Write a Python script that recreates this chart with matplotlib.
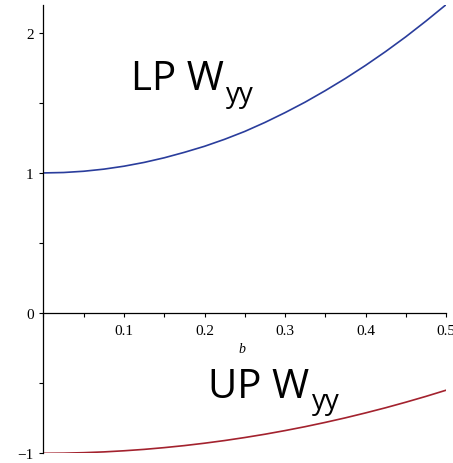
import matplotlib.pyplot as plt
from matplotlib.ticker import MultipleLocator, FixedLocator

# valores (b de 0 a 0.5, passo 0.025)
b_vals = [0.0, 0.025, 0.05, 0.075, 0.1, 0.125, 0.15, 0.175, 0.2, 0.225, 0.25,
          0.275, 0.3, 0.325, 0.35, 0.375, 0.4, 0.425, 0.45, 0.475, 0.5]
lp_wyy = [1.0, 1.003, 1.012, 1.027, 1.048, 1.075, 1.108, 1.147, 1.190, 1.240, 1.296,
          1.360, 1.430, 1.505, 1.587, 1.674, 1.767, 1.866, 1.971, 2.083, 2.2]
up_wyy = [-1.0, -0.999, -0.9955, -0.990, -0.982, -0.972, -0.9595, -0.945, -0.928, -0.909, -0.8875,
          -0.864, -0.838, -0.810, -0.7795, -0.747, -0.712, -0.675, -0.6355, -0.594, -0.55]

x_ticks = [0.1, 0.2, 0.3, 0.4, 0.5]
y_ticks = [-1, 0, 1, 2]

W, H = 453, 464

fig = plt.figure(figsize=(W / 100, H / 100), dpi=100)
ax = fig.add_axes([0.096, 0.0209, 0.8886, 0.9668])

ax.plot(b_vals, lp_wyy, color='#2a3d9c', lw=1.2)
ax.plot(b_vals, up_wyy, color='#a3222e', lw=1.2)

ax.set_xlim(0, 0.5)
ax.set_ylim(-1, 2.2)

# eixos cruzando na origem, estilo Maple
ax.spines['left'].set_position(('data', 0))
ax.spines['bottom'].set_position(('data', 0))
ax.spines['top'].set_visible(False)
ax.spines['right'].set_visible(False)
for s in ('left', 'bottom'):
    ax.spines[s].set_linewidth(0.9)

ax.xaxis.set_major_locator(FixedLocator(x_ticks))
ax.xaxis.set_minor_locator(MultipleLocator(0.05))
ax.yaxis.set_major_locator(FixedLocator(y_ticks))
ax.yaxis.set_minor_locator(MultipleLocator(0.5))
ax.set_xticklabels([str(v) for v in x_ticks], family='Liberation Serif', fontsize=11)
ax.set_yticklabels(['\u2212' + str(-v) if v < 0 else str(v) for v in y_ticks],
                   family='Liberation Serif', fontsize=11)
ax.tick_params(which='both', direction='out', width=0.8, length=3)
ax.tick_params(axis='x', pad=5)
ax.tick_params(axis='y', pad=4)

fig.text(242 / W, 1 - 350 / H, 'b', family='Liberation Serif', style='italic',
         fontsize=10, ha='center', va='center')

# rótulos das curvas (texto principal + subscrito)
fig.text(131 / W, 1 - 90 / H, 'LP W', family='Open Sans', fontsize=29,
         ha='left', va='baseline')
fig.text(226 / W, 1 - 102 / H, 'yy', family='Open Sans', fontsize=20,
         ha='left', va='baseline')
fig.text(208 / W, 1 - 398 / H, 'UP W', family='Open Sans', fontsize=29,
         ha='left', va='baseline')
fig.text(312 / W, 1 - 409 / H, 'yy', family='Open Sans', fontsize=20,
         ha='left', va='baseline')

fig.savefig('out.png', dpi=100)
